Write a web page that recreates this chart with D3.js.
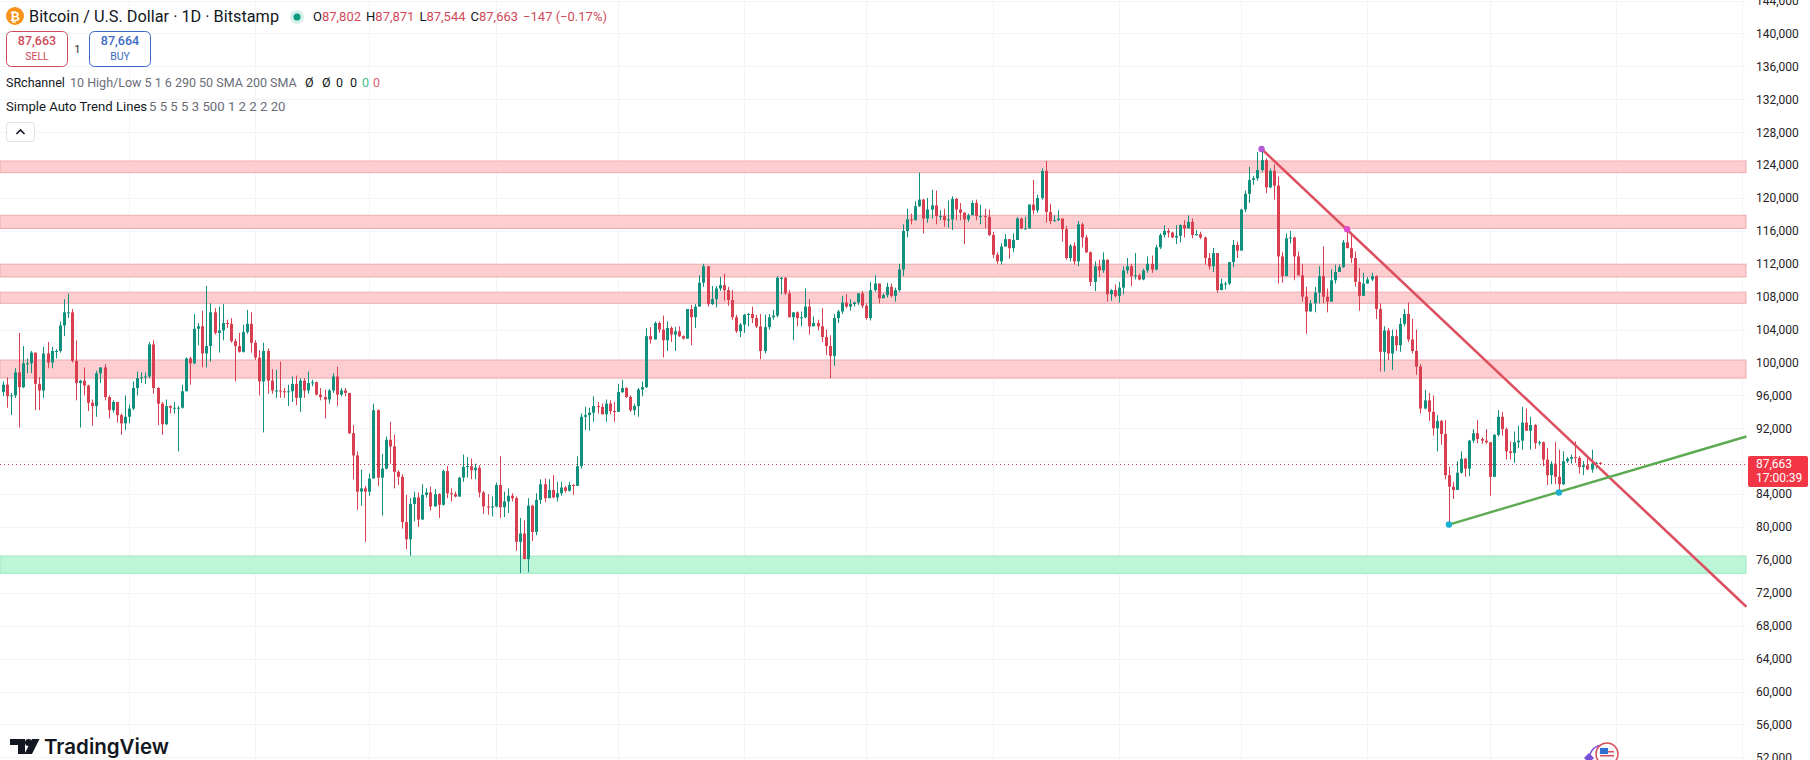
<!DOCTYPE html>
<html>
<head>
<meta charset="utf-8">
<title>Bitcoin / U.S. Dollar · 1D</title>
<script src="https://cdn.jsdelivr.net/npm/d3@7"></script>
<style>
  html, body { margin: 0; padding: 0; background: #fff; overflow: hidden; }
  svg { display: block; font-family: Roboto, "Liberation Sans", sans-serif; }
</style>
</head>
<body>
<svg id="chart" width="1810" height="760"></svg>
<script>
// Daily candles in thousands of USD, one line per calendar month, from 1 Dec 2024.
const firstDay = "2024-12-01";

const opens = [
  96.4,97.3,95.9,96.0,98.8,97.0,99.9,99.9,101.2,97.4,96.6,101.1,100.0,101.4,101.4,104.5,106.1,106.1,100.2,97.5,97.8,97.2,95.1,94.7,98.7,99.4,95.8,94.2,95.2,93.6,92.6,
  93.4,94.4,96.9,98.1,98.2,98.3,102.2,96.9,95.0,92.5,94.7,94.5,94.5,94.5,96.5,100.5,99.9,104.1,104.4,101.1,102.0,106.1,103.6,103.9,104.8,104.7,102.6,102.0,101.3,103.7,104.7,
  102.4,100.6,97.7,101.4,97.8,96.6,96.6,96.5,96.4,96.5,97.4,95.7,97.8,96.6,97.5,97.6,96.1,95.8,95.5,96.6,98.3,96.1,96.6,96.3,91.4,88.7,84.3,84.7,
  84.3,85.9,94.2,86.0,87.1,90.6,89.8,86.7,86.1,80.6,78.5,82.8,83.6,80.9,83.9,84.2,82.5,84.0,82.7,86.8,84.1,84.0,83.7,86.0,87.3,87.4,86.9,87.2,84.2,82.5,82.4,
  82.5,85.1,82.4,83.1,83.8,83.5,78.2,79.2,76.1,82.6,79.4,83.3,85.2,83.5,84.5,83.6,84.1,84.8,84.4,85.1,85.0,87.4,93.4,93.6,93.9,94.7,94.6,93.7,95.0,94.1,
  94.0,96.4,96.9,95.8,94.2,94.7,96.7,97.0,103.2,102.8,104.8,104.0,102.7,104.2,103.4,103.8,103.2,102.9,106.5,105.5,106.8,109.7,111.7,107.1,107.7,109.0,109.4,108.8,107.6,105.5,103.8,
  104.6,105.8,105.9,105.4,104.4,101.4,104.3,105.5,105.7,110.3,110.3,108.4,105.5,106.1,105.4,105.5,106.8,104.4,104.8,104.4,103.1,102.0,100.8,105.4,106.2,107.3,106.8,107.1,107.3,108.4,
  106.9,105.4,108.8,109.6,107.8,108.2,109.2,108.1,108.8,111.3,116.0,117.4,117.3,119.0,119.8,117.5,118.6,119.1,117.8,117.8,117.3,117.4,119.9,118.6,118.2,117.4,117.9,119.4,117.8,117.8,117.7,
  115.5,113.1,112.3,114.1,115.0,113.9,114.9,117.5,116.3,116.3,119.2,118.5,120.0,123.3,118.3,117.2,117.3,117.5,116.2,112.7,114.2,112.3,116.8,115.2,113.4,109.8,111.7,111.2,112.5,108.3,108.8,
  108.1,109.1,111.2,111.7,110.5,110.6,110.1,111.2,112.0,111.3,114.0,115.5,116.0,115.8,115.2,115.4,116.7,116.3,117.1,115.5,115.6,115.2,112.7,111.7,113.3,108.8,109.6,109.6,112.2,114.3,
  113.6,118.6,120.5,122.2,122.4,123.4,124.6,121.3,123.3,121.5,112.9,110.5,115.1,115.2,112.9,110.6,108.0,106.2,107.2,108.5,110.5,108.0,107.4,110.0,111.0,111.6,114.6,113.9,112.7,109.8,108.1,
  109.6,110.1,110.5,106.5,101.3,103.9,101.1,103.2,102.1,104.7,105.9,102.8,101.4,99.5,94.4,95.4,94.0,92.0,92.9,91.3,86.3,84.9,84.5,86.6,88.3,87.1,90.5,91.4,90.7,90.5,
  90.3,86.1,91.2,93.4,91.9,89.2,89.0,90.3,90.5,92.7,91.7,92.4,90.2,90.3,88.2,86.3,87.7,86.1,85.2,88.0,88.3,88.5,88.4,87.3,87.5,87.0,87.7,87.802
];

const highs = [
  97.7,98.2,96.3,99.3,103.6,102.0,100.5,101.4,101.2,98.2,101.9,102.5,101.9,101.6,105.0,107.7,108.4,106.5,102.7,97.9,99.4,97.3,95.5,99.0,99.4,99.8,96.0,95.4,95.0,93.8,96.0,
  94.9,97.7,98.9,98.8,98.8,102.5,102.7,97.0,95.2,95.5,94.8,95.2,94.7,97.3,100.6,100.7,105.9,104.8,106.3,109.3,107.2,106.6,106.8,107.1,105.2,105.4,102.9,103.6,104.6,106.4,106.1,
  102.7,101.5,102.4,101.7,99.2,99.1,100.1,96.9,97.3,98.3,98.4,98.1,98.1,98.9,97.9,97.7,96.9,96.7,96.8,98.7,99.5,96.9,96.9,96.3,92.4,89.2,87.0,85.0,
  86.5,95.0,94.3,88.9,91.0,92.8,91.2,86.9,86.4,83.9,83.5,84.3,84.2,85.2,84.7,84.9,84.6,84.1,87.0,87.4,84.7,84.3,86.1,88.8,88.5,88.3,87.7,87.5,84.4,84.0,83.7,
  85.4,88.6,84.3,84.7,84.1,83.7,81.1,80.8,83.5,82.7,84.1,85.8,85.9,85.8,86.3,85.5,85.5,85.0,85.5,85.2,88.6,93.8,94.6,94.5,95.9,95.2,95.0,95.5,95.4,95.2,
  97.4,97.9,97.0,96.0,95.0,96.9,97.7,104.2,104.3,105.0,105.0,105.7,105.0,104.4,104.3,104.4,103.3,106.5,107.0,107.1,110.6,112.0,111.7,109.3,109.3,110.4,110.8,109.2,108.8,105.8,104.8,
  105.9,106.0,106.8,105.8,105.9,105.8,105.9,106.4,110.5,110.4,110.4,108.8,106.1,106.2,106.2,109.0,107.7,105.6,105.2,106.6,104.0,103.3,105.9,106.4,108.1,108.3,107.7,107.4,108.4,108.7,
  107.2,109.8,110.6,109.6,108.4,109.7,109.6,109.1,112.0,116.8,118.7,118.1,119.6,123.1,119.9,120.0,121.0,120.9,118.5,118.7,119.7,120.2,120.0,119.4,118.3,118.1,119.7,119.8,119.2,118.7,118.6,
  115.9,113.4,114.5,115.6,115.0,115.7,117.7,117.6,117.7,119.2,122.2,120.4,123.6,124.5,119.3,117.9,118.5,117.5,116.6,114.4,114.6,117.2,117.0,115.5,113.5,112.3,112.5,113.4,112.5,108.9,109.5,
  109.8,111.7,112.7,112.0,113.3,110.8,111.4,112.9,113.0,114.3,115.7,116.7,116.3,115.9,116.7,116.8,117.3,117.9,117.5,116.1,115.9,115.3,113.3,113.9,113.3,110.2,109.8,112.2,114.9,114.7,
  118.7,120.9,123.8,122.7,125.6,126.0,124.8,123.6,124.1,122.6,113.4,115.7,116.0,115.3,113.5,112.0,109.2,107.6,109.2,111.7,114.1,109.0,111.3,111.9,111.9,114.9,116.1,115.8,113.5,111.5,110.9,
  110.4,110.9,110.6,107.2,104.4,104.2,104.0,104.0,105.4,106.5,107.3,105.3,104.0,99.8,96.7,96.3,96.0,93.6,93.0,93.0,87.3,85.5,88.0,89.2,88.4,90.6,91.9,93.0,90.9,91.9,
  90.3,91.3,94.2,94.0,92.1,90.4,91.6,92.3,94.6,94.4,93.4,92.5,90.5,90.4,89.6,88.0,90.3,89.4,89.2,88.5,88.8,90.4,88.6,88.0,88.4,89.4,87.9,87.871
];

const lows = [
  95.9,94.5,93.6,95.7,92.1,96.9,98.7,98.7,94.2,94.2,95.7,99.3,99.3,100.5,101.2,103.2,105.4,100.0,95.4,92.1,96.0,94.1,92.3,93.4,97.5,95.4,93.2,93.9,92.7,91.2,91.8,
  92.6,94.2,96.0,97.5,97.4,98.1,96.2,92.4,91.2,92.4,93.8,93.8,89.2,94.4,96.5,97.3,99.8,102.1,99.4,99.4,100.1,103.4,101.2,102.7,104.2,102.4,97.7,101.2,101.2,103.5,101.2,
  100.3,96.0,91.5,96.2,96.2,95.7,95.7,95.7,94.7,95.2,94.8,94.0,95.7,96.2,97.1,96.0,95.4,93.2,95.0,96.3,94.7,95.9,95.9,91.3,85.8,82.1,82.6,78.2,
  83.8,85.9,85.0,81.4,87.0,87.7,84.7,85.1,79.8,77.3,76.5,80.7,80.0,80.9,83.6,82.0,82.5,81.1,82.6,83.5,83.1,83.6,83.7,85.5,86.0,85.8,85.8,83.6,81.6,81.5,81.3,
  82.4,81.1,81.2,81.7,83.1,77.1,74.4,76.1,74.5,78.3,79.0,82.8,83.0,83.6,83.5,83.1,83.8,84.2,84.3,83.9,85.0,87.1,91.8,91.7,92.8,93.8,93.7,92.8,93.7,92.8,
  94.0,96.3,95.7,94.0,93.6,93.4,95.9,96.9,102.3,102.8,103.6,100.6,101.4,102.5,101.4,103.1,102.8,102.9,102.1,104.2,106.8,109.2,106.8,107.0,106.7,108.7,107.5,106.9,105.2,103.6,103.1,
  103.6,104.4,104.8,104.2,100.4,101.1,104.0,105.2,105.5,108.3,108.2,105.5,102.7,104.4,104.4,105.4,103.4,104.4,103.9,102.5,100.9,98.1,99.6,104.8,105.9,106.6,106.3,106.8,107.0,106.6,
  105.2,105.1,108.6,107.2,107.9,107.9,107.9,107.4,108.6,110.5,115.2,116.8,117.3,118.9,115.7,117.0,117.5,116.8,117.3,116.5,116.4,116.1,117.3,117.3,114.4,117.1,117.9,117.3,116.8,116.3,115.4,
  112.7,112.0,111.9,114.1,112.6,113.4,114.9,116.2,116.2,116.3,118.0,118.2,119.8,117.0,116.8,117.1,117.2,114.7,112.5,112.3,111.9,111.7,114.0,113.3,109.3,108.7,110.4,110.9,107.4,107.5,107.9,
  107.3,108.3,110.8,109.3,110.1,110.0,110.0,110.9,110.9,111.2,113.8,115.2,115.2,115.1,114.4,114.6,115.2,116.3,115.1,115.4,115.0,111.9,111.3,111.0,108.5,108.8,108.9,109.4,111.6,112.7,
  114.0,118.3,119.4,121.6,122.1,123.2,120.6,121.2,119.8,109.6,109.7,110.5,114.5,110.0,110.6,107.4,103.5,106.2,106.1,107.2,107.2,106.1,107.4,109.6,111.0,111.5,113.9,112.1,109.2,106.3,108.1,
  109.6,109.9,105.3,98.9,98.9,100.3,99.1,101.4,101.3,104.4,102.5,101.1,98.5,93.8,94.3,92.9,91.1,89.2,90.0,85.8,80.3,83.4,84.5,86.5,86.1,86.2,90.2,90.2,90.1,90.1,
  83.8,86.1,91.0,91.1,88.2,88.2,87.8,89.6,89.4,91.7,89.4,89.5,89.9,87.4,85.1,85.2,85.2,84.5,85.1,87.8,87.7,87.8,86.5,86.3,86.9,86.6,87.1,87.544
];

const closes = [
  97.3,95.9,96.0,98.8,97.0,99.9,99.9,101.2,97.4,96.6,101.1,100.0,101.4,101.4,104.5,106.1,106.1,100.2,97.5,97.8,97.2,95.1,94.7,98.7,99.4,95.8,94.2,95.2,93.6,92.6,93.4,
  94.4,96.9,98.1,98.2,98.3,102.2,96.9,95.0,92.5,94.7,94.5,94.5,94.5,96.5,100.5,99.9,104.1,104.4,101.1,102.0,106.1,103.6,103.9,104.8,104.7,102.6,102.0,101.3,103.7,104.7,102.4,
  100.6,97.7,101.4,97.8,96.6,96.6,96.5,96.4,96.5,97.4,95.7,97.8,96.6,97.5,97.6,96.1,95.8,95.5,96.6,98.3,96.1,96.6,96.3,91.4,88.7,84.3,84.7,84.3,
  85.9,94.2,86.0,87.1,90.6,89.8,86.7,86.1,80.6,78.5,82.8,83.6,80.9,83.9,84.2,82.5,84.0,82.7,86.8,84.1,84.0,83.7,86.0,87.3,87.4,86.9,87.2,84.2,82.5,82.4,82.5,
  85.1,82.4,83.1,83.8,83.5,78.2,79.2,76.1,82.6,79.4,83.3,85.2,83.5,84.5,83.6,84.1,84.8,84.4,85.1,85.0,87.4,93.4,93.6,93.9,94.7,94.6,93.7,95.0,94.1,94.0,
  96.4,96.9,95.8,94.2,94.7,96.7,97.0,103.2,102.8,104.8,104.0,102.7,104.2,103.4,103.8,103.2,102.9,106.5,105.5,106.8,109.7,111.7,107.1,107.7,109.0,109.4,108.8,107.6,105.5,103.8,104.6,
  105.8,105.9,105.4,104.4,101.4,104.3,105.5,105.7,110.3,110.3,108.4,105.5,106.1,105.4,105.5,106.8,104.4,104.8,104.4,103.1,102.0,100.8,105.4,106.2,107.3,106.8,107.1,107.3,108.4,106.9,
  105.4,108.8,109.6,107.8,108.2,109.2,108.1,108.8,111.3,116.0,117.4,117.3,119.0,119.8,117.5,118.6,119.1,117.8,117.8,117.3,117.4,119.9,118.6,118.2,117.4,117.9,119.4,117.8,117.8,117.7,115.5,
  113.1,112.3,114.1,115.0,113.9,114.9,117.5,116.3,116.3,119.2,118.5,120.0,123.3,118.3,117.2,117.3,117.5,116.2,112.7,114.2,112.3,116.8,115.2,113.4,109.8,111.7,111.2,112.5,108.3,108.8,108.1,
  109.1,111.2,111.7,110.5,110.6,110.1,111.2,112.0,111.3,114.0,115.5,116.0,115.8,115.2,115.4,116.7,116.3,117.1,115.5,115.6,115.2,112.7,111.7,113.3,108.8,109.6,109.6,112.2,114.3,113.6,
  118.6,120.5,122.2,122.4,123.4,124.6,121.3,123.3,121.5,112.9,110.5,115.1,115.2,112.9,110.6,108.0,106.2,107.2,108.5,110.5,108.0,107.4,110.0,111.0,111.6,114.6,113.9,112.7,109.8,108.1,109.6,
  110.1,110.5,106.5,101.3,103.9,101.1,103.2,102.1,104.7,105.9,102.8,101.4,99.5,94.4,95.4,94.0,92.0,92.9,91.3,86.3,84.9,84.5,86.6,88.3,87.1,90.5,91.4,90.7,90.5,90.3,
  86.1,91.2,93.4,91.9,89.2,89.0,90.3,90.5,92.7,91.7,92.4,90.2,90.3,88.2,86.3,87.7,86.1,85.2,88.0,88.3,88.5,88.4,87.3,87.5,87.0,87.7,87.8,87.663
];

const priceTicks = [144,140,136,132,128,124,120,116,112,108,104,100,96,92,88,84,80,76,72,68,64,60,56,52];

// Support and resistance bands, low and high edge in thousands.
const resistanceBands = [[123.08,124.5],[116.3,117.9],[110.4,111.95],[107.2,108.55],[98.1,100.3]];
const supportBands = [[74.37,76.47]];

// Auto trend lines: [date, price] pairs.
const downTrend = [["2025-10-06",125.96],["2026-02-02",70.3]];
const upTrend = [["2025-11-21",80.3],["2026-02-02",91.0]];
const pivots = [
  ["2025-10-06",125.96,"#b45cd8"],
  ["2025-10-27",116.2,"#e04bd0"],
  ["2025-11-21",80.3,"#1cb0d0"],
  ["2025-12-18",84.2,"#1cb0d0"]
];

const lastClose = 87.663;
const countdown = "17:00:39";

const W = 1810, H = 760, paneRight = 1746;
const GREEN = "#12907e", RED = "#d83f50";
const parse = d3.utcParse("%Y-%m-%d");
const svg = d3.select("#chart");

const x = d3.scaleUtc().domain([parse("2025-01-01"), parse("2026-01-01")]).range([129, 1616]);
const y = d3.scaleLinear().domain([144, 52]).range([0.6, 757.3]);

const start = parse(firstDay);
const days = closes.map((_, i) => d3.utcDay.offset(start, i));

// Background grid
const gridX = d3.utcMonth.range(parse("2025-01-01"), parse("2026-03-01"));
svg.append("g").selectAll("line").data(gridX).join("line")
  .attr("x1", d => Math.round(x(d)) + 0.5).attr("x2", d => Math.round(x(d)) + 0.5)
  .attr("y1", 0).attr("y2", H)
  .attr("stroke", "#f3f4f6");
svg.append("g").selectAll("line").data(priceTicks).join("line")
  .attr("x1", 0).attr("x2", paneRight)
  .attr("y1", d => Math.round(y(d)) + 0.5).attr("y2", d => Math.round(y(d)) + 0.5)
  .attr("stroke", "#f3f4f6");

// SR bands
const drawBands = (rows, fill, edge) => {
  const g = svg.append("g");
  g.selectAll("rect").data(rows).join("rect")
    .attr("x", 0).attr("width", paneRight)
    .attr("y", d => y(d[1])).attr("height", d => y(d[0]) - y(d[1]))
    .attr("fill", fill).attr("stroke", edge).attr("stroke-width", 1);
};
drawBands(resistanceBands, "#fdcdd0", "#eeabb0");
drawBands(supportBands, "#bcf5d8", "#9aeac1");

// Current price line
svg.append("line")
  .attr("x1", 0).attr("x2", paneRight)
  .attr("y1", Math.round(y(lastClose)) + 0.5).attr("y2", Math.round(y(lastClose)) + 0.5)
  .attr("stroke", "#c9404e").attr("stroke-width", 1).attr("stroke-dasharray", "1 3");

// Candles
const candles = svg.append("g").selectAll("g").data(days).join("g");
const colorOf = i => closes[i] >= opens[i] ? GREEN : RED;
candles.append("line")
  .attr("x1", d => Math.round(x(d)) + 0.5).attr("x2", d => Math.round(x(d)) + 0.5)
  .attr("y1", (d, i) => y(highs[i])).attr("y2", (d, i) => y(lows[i]))
  .attr("stroke", (d, i) => colorOf(i)).attr("stroke-width", 1);
candles.append("rect")
  .attr("x", d => Math.round(x(d)) - 1).attr("width", 3)
  .attr("y", (d, i) => y(Math.max(opens[i], closes[i])))
  .attr("height", (d, i) => Math.max(1, Math.abs(y(opens[i]) - y(closes[i]))))
  .attr("fill", (d, i) => colorOf(i));

// Trend lines and their pivots
const trendPath = d3.line().x(d => x(parse(d[0]))).y(d => y(d[1]));
svg.append("path").attr("d", trendPath(downTrend)).attr("fill", "none")
  .attr("stroke", "#dc5060").attr("stroke-width", 2.6);
svg.append("path").attr("d", trendPath(upTrend)).attr("fill", "none")
  .attr("stroke", "#5cab52").attr("stroke-width", 2.4);
svg.append("g").selectAll("circle").data(pivots).join("circle")
  .attr("cx", d => x(parse(d[0]))).attr("cy", d => y(d[1])).attr("r", 3.2)
  .attr("fill", d => d[2]);

// Price scale
const axis = d3.axisRight(y).tickValues(priceTicks).tickSize(0).tickPadding(0)
  .tickFormat(d => d3.format(",")(d * 1000));
const axisG = svg.append("g").attr("transform", "translate(1756,0)").call(axis);
axisG.select(".domain").remove();
axisG.selectAll("text").attr("font-family", "Roboto, sans-serif").attr("font-size", 12).attr("fill", "#1f2226");

// Last price tag
const tag = svg.append("g");
tag.append("rect").attr("x", 1748).attr("y", y(lastClose) - 8).attr("width", 60).attr("height", 31)
  .attr("rx", 2).attr("fill", "#f23645");
tag.append("text").attr("x", 1756).attr("y", y(lastClose) + 4).attr("font-size", 12).attr("fill", "#fff").text(d3.format(",")(lastClose * 1000));
tag.append("text").attr("x", 1756).attr("y", y(lastClose) + 18).attr("font-size", 12).attr("fill", "#fff").text(countdown);

// Legend header
const label = (sx, sy, text, size, fill, anchor) => svg.append("text")
  .attr("x", sx).attr("y", sy).attr("font-size", size).attr("fill", fill)
  .attr("text-anchor", anchor || "start").text(text);

svg.append("circle").attr("cx", 15).attr("cy", 16).attr("r", 9).attr("fill", "#f7931a");
label(15, 20.5, "₿", 12, "#fff", "middle").attr("font-weight", 700);
label(29, 22, "Bitcoin / U.S. Dollar · 1D · Bitstamp", 16.3, "#131722");
svg.append("circle").attr("cx", 297).attr("cy", 17).attr("r", 7).attr("fill", "#d5f0ea");
svg.append("circle").attr("cx", 297).attr("cy", 17).attr("r", 3.5).attr("fill", "#089981");

const ohlc = svg.append("text").attr("x", 313).attr("y", 21).attr("font-size", 13).attr("fill", "#cf4a58");
[["O","87,802"],["H","87,871"],["L","87,544"],["C","87,663"]].forEach(([k, v], i) => {
  ohlc.append("tspan").attr("fill", "#131722").attr("dx", i ? 5 : 0).text(k);
  ohlc.append("tspan").text(v);
});
ohlc.append("tspan").attr("dx", 5).text("−147 (−0.17%)");

// Sell and buy buttons
const button = (bx, color, price, word) => {
  svg.append("rect").attr("x", bx + 0.5).attr("y", 31.5).attr("width", 61).attr("height", 35).attr("rx", 5)
    .attr("fill", "#fff").attr("stroke", color);
  label(bx + 31, 45, price, 12.5, color, "middle").attr("font-weight", 500);
  label(bx + 31, 60, word, 10.5, color, "middle");
};
button(6, "#cf4a58", "87,663", "SELL");
button(89, "#3b6bc4", "87,664", "BUY");
label(77.5, 53, "1", 10.5, "#131722", "middle");

// Indicator legend rows
label(6, 87, "SRchannel", 12.5, "#131722");
label(70, 87, "10 High/Low 5 1 6 290 50 SMA 200 SMA", 12.5, "#6a6d78");
[[305,"Ø","#131722"],[322,"Ø","#131722"],[336,"0","#131722"],[350,"0","#131722"],[362,"0","#3fc08a"],[373,"0","#d9606c"]]
  .forEach(d => label(d[0], 87, d[1], 12.5, d[2]));
label(6, 111, "Simple Auto Trend Lines", 13.1, "#131722");
label(149, 111, "5 5 5 5 3 500 1 2 2 2 20", 13.2, "#6a6d78");

svg.append("rect").attr("x", 6.5).attr("y", 122.5).attr("width", 28).attr("height", 19).attr("rx", 3)
  .attr("fill", "#fff").attr("stroke", "#dfe1e5");
svg.append("path").attr("d", "M16.5 134 L20.5 130 L24.5 134").attr("fill", "none").attr("stroke", "#131722").attr("stroke-width", 1.6);

// Wordmark
svg.append("path").attr("fill", "#131722")
  .attr("d", "M10 739 H25 V754 H18 V745 H10 Z M39.5 739 L32 754 H24.5 L32 739 Z");
svg.append("circle").attr("cx", 28.5).attr("cy", 742.5).attr("r", 3.5).attr("fill", "#131722");
label(44, 754, "TradingView", 20.5, "#131722").attr("font-family", "Inter, sans-serif").attr("font-weight", 600);

// Event badge at the bottom of the pane
svg.append("path").attr("d", "M1589 758 C1591 748 1598 745 1604 745").attr("fill", "none").attr("stroke", "#7a4fd8").attr("stroke-width", 1.5);
svg.append("path").attr("d", "M1589 753 L1594 758 L1589 763 L1584 758 Z").attr("fill", "#7a4fd8");
svg.append("circle").attr("cx", 1607).attr("cy", 754).attr("r", 11).attr("fill", "#fff").attr("stroke", "#d8505c").attr("stroke-width", 1.5);
svg.append("circle").attr("cx", 1607).attr("cy", 754).attr("r", 8).attr("fill", "#f4f6fa");
svg.append("rect").attr("x", 1600).attr("y", 748).attr("width", 8).attr("height", 6).attr("fill", "#2f6fd0");
svg.append("rect").attr("x", 1600).attr("y", 755).attr("width", 14).attr("height", 1.5).attr("fill", "#d8505c");
svg.append("rect").attr("x", 1608).attr("y", 751).attr("width", 6).attr("height", 1.5).attr("fill", "#d8505c");
</script>
</body>
</html>
